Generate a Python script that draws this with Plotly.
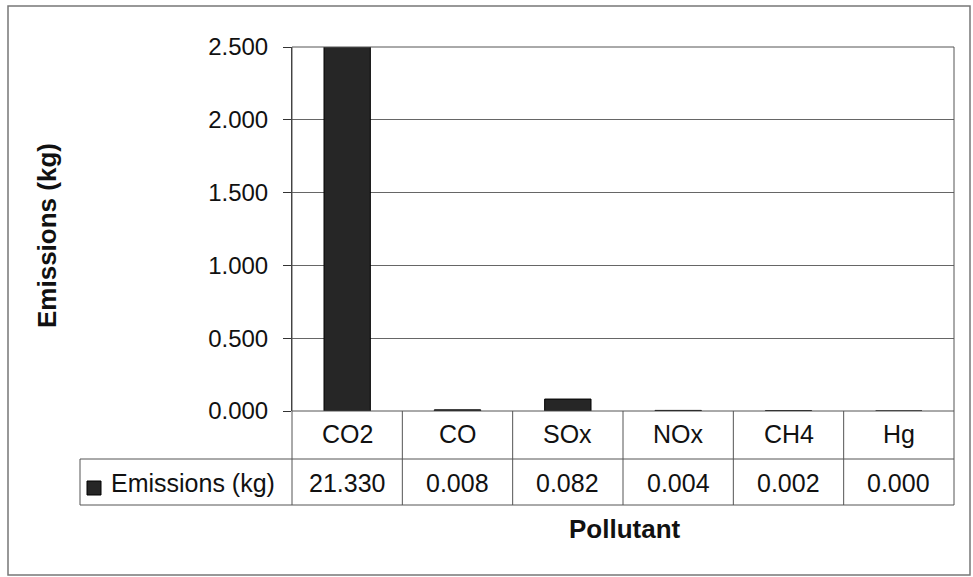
import plotly.graph_objects as go

categories = ["CO2", "CO", "SOx", "NOx", "CH4", "Hg"]
emissions = [21.330, 0.008, 0.082, 0.004, 0.002, 0.000]
table_labels = ["21.330", "0.008", "0.082", "0.004", "0.002", "0.000"]
y_ticks = [0, 0.5, 1.0, 1.5, 2.0, 2.5]
y_tick_text = ["0.000", "0.500", "1.000", "1.500", "2.000", "2.500"]
series_name = "Emissions (kg)"

W, H = 973, 577
L, R, T, B = 292, 954, 47, 411   # plot area in pixels
FONT = "Liberation Sans, Arial, sans-serif"
TXT = "#111111"

def px(x):
    return (x - L) / (R - L)

def py(y):
    return (B - y) / (B - T)

fig = go.Figure()
fig.add_trace(go.Bar(
    x=categories, y=emissions, width=0.42,
    marker=dict(color="#262626", line=dict(color="#000000", width=1)),
    showlegend=False,
))

shapes = []
line_c = "#555555"
# outer chart border
shapes.append(dict(type="rect", xref="paper", yref="paper",
                   x0=px(8), x1=px(970), y0=py(575), y1=py(6),
                   line=dict(color="#777777", width=1.5), layer="below"))
# plot area frame
shapes.append(dict(type="rect", xref="paper", yref="paper",
                   x0=0, x1=1, y0=0, y1=1, line=dict(color=line_c, width=1)))
# data table lines
row1, row2 = 459, 505
for yy in (row1, row2):
    shapes.append(dict(type="line", xref="paper", yref="paper",
                       x0=px(80), x1=1, y0=py(yy), y1=py(yy), line=dict(color=line_c, width=1)))
shapes.append(dict(type="line", xref="paper", yref="paper",
                   x0=px(80), x1=px(80), y0=py(row2), y1=py(row1), line=dict(color=line_c, width=1)))
n = len(categories)
for i in range(n + 1):
    xp = i / n
    shapes.append(dict(type="line", xref="paper", yref="paper",
                       x0=xp, x1=xp, y0=py(row2), y1=0, line=dict(color=line_c, width=1)))
# legend key
shapes.append(dict(type="rect", xref="paper", yref="paper",
                   x0=px(87), x1=px(101), y0=py(495), y1=py(481),
                   fillcolor="#262626", line=dict(color="#000000", width=1)))

def ann(x, y, text, xref="paper", size=25, xanchor="center", angle=0):
    return dict(x=x, y=y, xref=xref, yref="paper", text=text, showarrow=False,
                xanchor=xanchor, yanchor="middle", textangle=angle,
                font=dict(size=size, color=TXT, family=FONT))

annotations = []
for c, t in zip(categories, table_labels):
    annotations.append(ann(c, py(434), c, xref="x"))
    annotations.append(ann(c, py(483), t, xref="x"))
annotations.append(ann(px(109), py(483), series_name, xanchor="left"))
annotations.append(ann(px(625), py(529), "<b>Pollutant</b>", size=26))
annotations.append(ann(px(47), py(235), "<b>Emissions (kg)</b>", size=26, angle=-90))

fig.update_layout(
    width=W, height=H,
    margin=dict(l=L, r=W - R, t=T, b=H - B, pad=0),
    paper_bgcolor="white", plot_bgcolor="white",
    xaxis=dict(showticklabels=False, showgrid=False, ticks="", showline=False,
               zeroline=False, range=[-0.5, n - 0.5], fixedrange=True),
    yaxis=dict(range=[0, 2.5], tickvals=y_ticks, ticktext=y_tick_text,
               ticks="outside", ticklen=8, tickcolor="#333333",
               showgrid=True, gridcolor="#666666", gridwidth=1,
               showline=True, linecolor="#333333", linewidth=1,
               zeroline=False, tickfont=dict(size=24, color=TXT, family=FONT),
               ticklabelstandoff=10),
    shapes=shapes, annotations=annotations,
    font=dict(family=FONT),
)

fig.write_html("out.html")
